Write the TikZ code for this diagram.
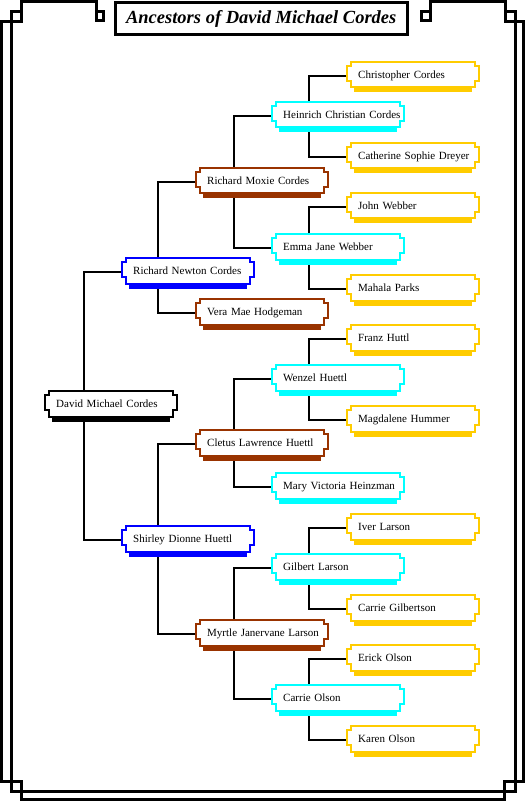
\documentclass[tikz,border=0pt]{standalone}
\usepackage{fontspec}
\setmainfont{Liberation Serif}
\usetikzlibrary{calc}
\pgfdeclarelayer{bg}
\pgfsetlayers{bg,main}
\definecolor{gold}{HTML}{FFCC00}
\definecolor{aqua}{HTML}{00FFFF}
\definecolor{rust}{HTML}{993300}
\definecolor{royal}{HTML}{0000FF}
\tikzset{
  frameline/.style={line width=3pt, line join=miter},
  conn/.style={line width=2pt, line cap=rect},
  person/.style={anchor=west, inner sep=0pt, text width=132pt, align=left,
    text height=7.5pt, text depth=2.5pt, font=\fontsize{11}{13}\selectfont},
  outline/.style={line width=2pt, fill=white, line join=miter},
  titlebox/.style={draw, line width=3pt, minimum width=292.5pt, minimum height=32pt,
    inner sep=0pt, font=\fontsize{18.5}{20}\selectfont\bfseries\itshape},
}
\newcommand\person[5]{%
  \begin{scope}[shift={(#3,#4)}]
    \fill[#2] (7,12.5) rectangle (125,18.5);
    \draw[outline,draw=#2] (4,-12) -- (128,-12) -- (128,-8) -- (132,-8) -- (132,7)
      -- (128,7) -- (128,13.5) -- (4,13.5) -- (4,7) -- (0,7) -- (0,-8) -- (4,-8) -- cycle;
  \end{scope}
  \node[person] (#1) at (#3,#4+2) {\hspace*{11pt}#5};
}
\begin{document}
\begin{tikzpicture}[x=1pt,y=-1pt]
\useasboundingbox (0,0) rectangle (526,802);
% frame
\draw[frameline] (96.5,11.5) -- (103.5,11.5) -- (103.5,20.5) -- (96.5,20.5) -- (96.5,1.5)
  -- (21.5,1.5) -- (21.5,21.5) -- (1.5,21.5) -- (1.5,781.5) -- (21.5,781.5) -- (21.5,799.5)
  -- (504.5,799.5) -- (504.5,781.5) -- (523.5,781.5) -- (523.5,21.5) -- (505.5,21.5)
  -- (505.5,1.5) -- (430.5,1.5) -- (430.5,20.5) -- (421.5,20.5) -- (421.5,11.5) -- (430.5,11.5);
\draw[frameline] (21.5,11.5) -- (11.5,11.5) -- (11.5,791.5) -- (515,791.5) -- (515,11.5) -- (505.5,11.5);
% title
\node[titlebox] (title) at (261.25,18.5) {Ancestors of David Michael Cordes};
% people
\person{david}{black}{45}{403}{David Michael Cordes}
\person{rnc}{royal}{122}{270}{Richard Newton Cordes}
\person{sdh}{royal}{122}{538}{Shirley Dionne Huettl}
\person{rmc}{rust}{196}{180}{Richard Moxie Cordes}
\person{vmh}{rust}{196}{311}{Vera Mae Hodgeman}
\person{clh}{rust}{196}{442}{Cletus Lawrence Huettl}
\person{mjl}{rust}{196}{632}{Myrtle Janervane Larson}
\person{hcc}{aqua}{272}{114}{Heinrich Christian Cordes}
\person{ejw}{aqua}{272}{246}{Emma Jane Webber}
\person{wh}{aqua}{272}{377}{Wenzel Huettl}
\person{mvh}{aqua}{272}{485}{Mary Victoria Heinzman}
\person{gl}{aqua}{272}{566}{Gilbert Larson}
\person{co}{aqua}{272}{697}{Carrie Olson}
\person{cc}{gold}{347}{74}{Christopher Cordes}
\person{csd}{gold}{347}{155}{Catherine Sophie Dreyer}
\person{jw}{gold}{347}{205}{John Webber}
\person{mp}{gold}{347}{287}{Mahala Parks}
\person{fh}{gold}{347}{337}{Franz Huttl}
\person{mh}{gold}{347}{418}{Magdalene Hummer}
\person{il}{gold}{347}{526}{Iver Larson}
\person{cg}{gold}{347}{607}{Carrie Gilbertson}
\person{eo}{gold}{347}{657}{Erick Olson}
\person{ko}{gold}{347}{738}{Karen Olson}
% connectors
\begin{pgfonlayer}{bg}
\draw[conn] (rnc.west) -- ++(-38,0) |- (sdh.west);
\draw[conn] (rmc.west) -- ++(-38,0) |- (vmh.west);
\draw[conn] (clh.west) -- ++(-38,0) |- (mjl.west);
\draw[conn] (hcc.west) -- ++(-38,0) |- (ejw.west);
\draw[conn] (wh.west) -- ++(-38,0) |- (mvh.west);
\draw[conn] (gl.west) -- ++(-38,0) |- (co.west);
\draw[conn] (cc.west) -- ++(-38,0) |- (csd.west);
\draw[conn] (jw.west) -- ++(-38,0) |- (mp.west);
\draw[conn] (fh.west) -- ++(-38,0) |- (mh.west);
\draw[conn] (il.west) -- ++(-38,0) |- (cg.west);
\draw[conn] (eo.west) -- ++(-38,0) |- (ko.west);
\end{pgfonlayer}
\end{tikzpicture}
\end{document}
